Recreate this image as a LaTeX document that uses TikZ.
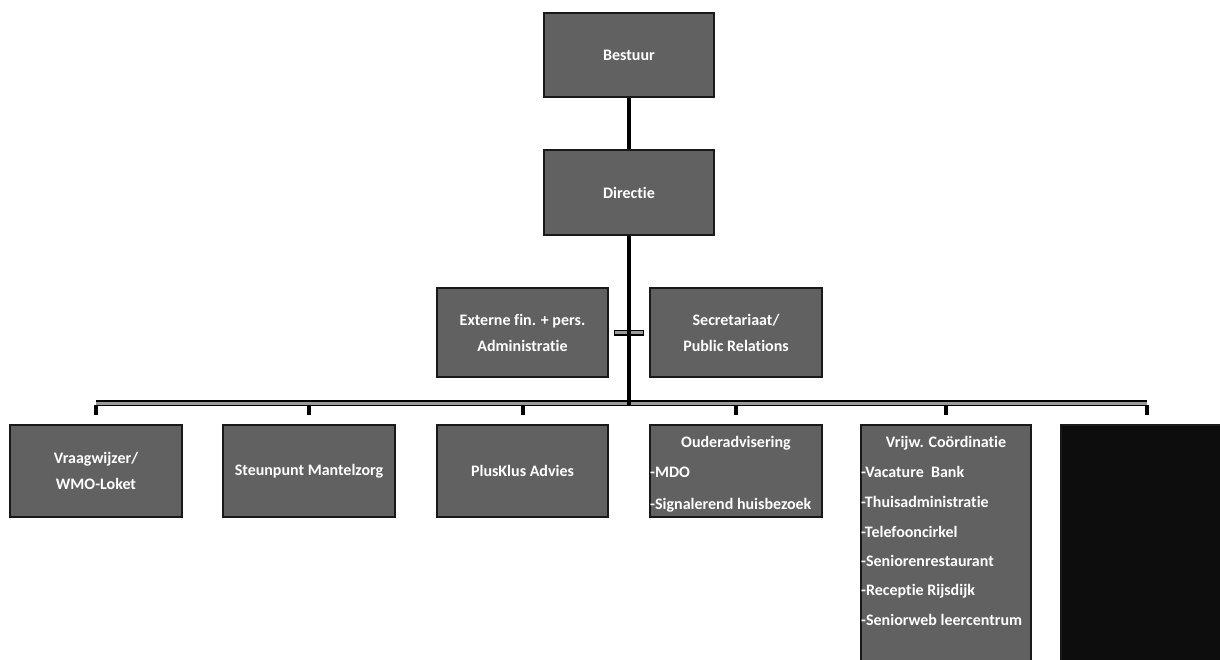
\documentclass[tikz,border=0pt]{standalone}
\usepackage{fontspec}
\setmainfont{Carlito}[Ligatures=NoCommon]
\definecolor{boxgray}{HTML}{616161}
\definecolor{busgray}{HTML}{9A9A9A}
\begin{document}
\begin{tikzpicture}[x=1pt,y=-1pt,
  box/.style={draw=black!90, line width=1.3pt, fill=boxgray, inner sep=0pt,
    text=white, align=center, font=\bfseries\fontsize{16}{26}\selectfont},
  darkbox/.style={box, fill=black!95},
  txt/.style={text=white, inner sep=0pt, font=\bfseries\fontsize{16}{19}\selectfont},
  trunk/.style={draw=black, line width=4pt},
  drop/.style={draw=black, line width=4pt, shorten >=9pt},
  busouter/.style={draw=black, line width=6pt},
  businner/.style={draw=busgray, line width=3pt},
]
\useasboundingbox (0,0) rectangle (1220,659);
\fill[white] (0,0) rectangle (1220,659);

% top
\node[box, minimum width=170, minimum height=84] (bestuur) at (629,55) {Bestuur};
\node[box, minimum width=170, minimum height=85] (directie) at (629,192.5) {Directie};

% staff
\node[box, minimum width=171, minimum height=89] (ext) at (522.5,332.5) {Externe fin. + pers.\\Administratie};
\node[box, minimum width=172, minimum height=89] (sec) at (736,332.5) {Secretariaat/\\Public Relations};

% bottom row
\node[box, minimum width=172, minimum height=92] (b1) at (96,471) {Vraagwijzer/\\WMO-Loket};
\node[box, minimum width=172, minimum height=92] (b2) at (309,471) {Steunpunt Mantelzorg};
\node[box, minimum width=171, minimum height=92] (b3) at (522.5,471) {PlusKlus Advies};
\node[box, minimum width=172, minimum height=92] (b4) at (736,471) {};
\node[box, minimum width=170, minimum height=255] (b5) at (946,552.5) {};
\node[darkbox, minimum width=172, minimum height=255] (b6) at (1147,552.5) {};

% b4 texts
\node[txt] (b4t) at (736,443) {Ouderadvisering};
\node[txt, anchor=west] (b4a) at (650,472) {-MDO};
\node[txt, anchor=west] (b4b) at (650,505) {-Signalerend huisbezoek};

% b5 texts
\node[txt] (b5t) at (946,443) {Vrijw. Coördinatie};
\node[txt, anchor=west] (b5a) at (861,472) {-Vacature\ \ Bank};
\node[txt, anchor=west] (b5b) at (861,502) {-Thuisadministratie};
\node[txt, anchor=west] (b5c) at (861,532) {-Telefooncirkel};
\node[txt, anchor=west] (b5d) at (861,561) {-Seniorenrestaurant};
\node[txt, anchor=west] (b5e) at (861,591) {-Receptie Rijsdijk};
\node[txt, anchor=west] (b5f) at (861,620) {-Seniorweb leercentrum};

% connectors
\coordinate (bus) at (629,403);
\draw[trunk] (bestuur.south) -- (directie.north);
\draw[busouter] (b1.north |- bus) -- (b6.north |- bus);
\draw[businner] (b1.north |- bus) -- (b6.north |- bus);
\draw[busouter, shorten <=5pt, shorten >=5pt] (ext.east) -- (sec.west);
\draw[businner, shorten <=6pt, shorten >=6pt] (ext.east) -- (sec.west);
\draw[trunk] (directie.south) -- ([yshift=-3pt]bus);
\foreach \n in {b1,b2,b3,b4,b5,b6}
  \draw[drop] ([yshift=-2pt]\n.north |- bus) -- (\n.north);
\end{tikzpicture}
\end{document}
